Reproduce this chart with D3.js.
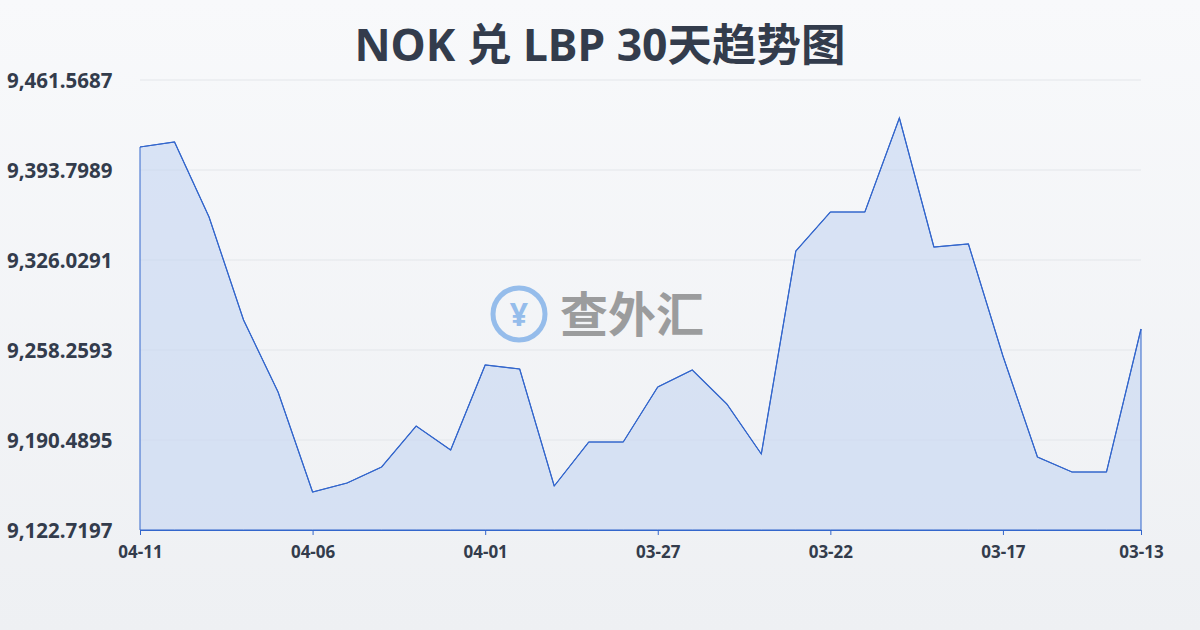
<!DOCTYPE html>
<html><head><meta charset="utf-8">
<script src="https://cdn.jsdelivr.net/npm/d3@7"></script>
<style>body{margin:0;}svg{display:block;font-family:"Noto Sans","Noto Sans CJK SC",sans-serif;}</style>
</head><body><div id="chart"></div>
<script>
var dates = ["04-11","04-10","04-09","04-08","04-07","04-06","04-05","04-04","04-03","04-02","04-01","03-31","03-30","03-29","03-28","03-27","03-26","03-25","03-24","03-23","03-22","03-21","03-20","03-19","03-18","03-17","03-16","03-15","03-14","03-13"];
var rates = [9411.12,9414.88,9358.41,9280.85,9226.63,9151.33,9158.11,9170.16,9201.03,9182.96,9246.96,9243.95,9155.85,9188.98,9188.98,9230.40,9243.20,9217.60,9179.95,9332.81,9362.17,9362.17,9432.96,9335.82,9338.08,9253.74,9177.69,9166.39,9166.39,9274.07];
var yTicks = [9122.7197,9190.4895,9258.2593,9326.0291,9393.7989,9461.5687];
var xTickLabels = ["04-11","04-06","04-01","03-27","03-22","03-17","03-13"];

var W = 1200, H = 630;
var margin = {top: 80, right: 59, bottom: 100, left: 140};
var svg = d3.select("#chart").append("svg").attr("width", W).attr("height", H);

var defs = svg.append("defs");
var bg = defs.append("linearGradient").attr("id","bg").attr("x1",0).attr("y1",0).attr("x2",0).attr("y2",1);
bg.append("stop").attr("offset","0%").attr("stop-color","#f8f9fb");
bg.append("stop").attr("offset","100%").attr("stop-color","#eef0f3");
svg.append("rect").attr("width",W).attr("height",H).attr("fill","url(#bg)");

svg.append("text").attr("x",W/2).attr("y",61).attr("text-anchor","middle")
  .attr("font-size",44.5).attr("font-weight","bold").attr("fill","#333c4c")
  .text("NOK 兑 LBP 30天趋势图");

var x = d3.scalePoint().domain(dates).range([margin.left, W - margin.right]);
var y = d3.scaleLinear().domain([yTicks[0], yTicks[yTicks.length-1]]).range([H - margin.bottom, margin.top]);

// grid
svg.append("g").selectAll("line").data(yTicks).enter().append("line")
  .attr("x1", margin.left).attr("x2", W - margin.right)
  .attr("y1", function(d){ return y(d); }).attr("y2", function(d){ return y(d); })
  .attr("stroke","#e3e6ea").attr("stroke-width",1);

// watermark
var wm = svg.append("g").attr("opacity",0.55);
wm.append("circle").attr("cx",519).attr("cy",314).attr("r",26).attr("fill","none").attr("stroke","#4a90e2").attr("stroke-width",5);
wm.append("text").attr("x",519).attr("y",326).attr("text-anchor","middle").attr("font-size",32).attr("font-weight","bold").attr("fill","#4a90e2").text("¥");
wm.append("text").attr("x",560).attr("y",332).attr("font-size",48).attr("font-weight","bold").attr("fill","#555").text("查外汇");

var area = d3.area().x(function(d,i){ return x(dates[i]); }).y0(H - margin.bottom).y1(function(d){ return y(d); });
var line = d3.line().x(function(d,i){ return x(dates[i]); }).y(function(d){ return y(d); });
svg.append("path").datum(rates).attr("d", area).attr("fill","#c5d5f2").attr("fill-opacity",0.6).attr("stroke","#3366cc").attr("stroke-width",1);
svg.append("path").datum(rates).attr("d", line).attr("fill","none").attr("stroke","#3366cc").attr("stroke-width",1.2);

// axes
var yAxis = svg.append("g").attr("transform","translate(" + margin.left + ",0)")
  .call(d3.axisLeft(y).tickValues(yTicks).tickSize(0).tickFormat(d3.format(",.4f")));
yAxis.select(".domain").remove();
yAxis.selectAll("text").attr("x", 7 - margin.left).attr("dy","0.35em").attr("text-anchor","start")
  .attr("font-size",20.5).attr("font-weight","bold").attr("fill","#333c4c")
  .attr("font-family","'Noto Sans',sans-serif");

var xAxis = svg.append("g").attr("transform","translate(0," + (H - margin.bottom) + ")")
  .call(d3.axisBottom(x).tickValues(xTickLabels).tickSize(5));
xAxis.select(".domain").attr("stroke","#3366cc");
xAxis.selectAll("line").attr("stroke","#3366cc");
xAxis.selectAll("text").attr("font-size",17).attr("font-weight","bold").attr("fill","#333c4c")
  .attr("font-family","'Noto Sans',sans-serif").attr("dy","1.2em");
</script></body></html>
